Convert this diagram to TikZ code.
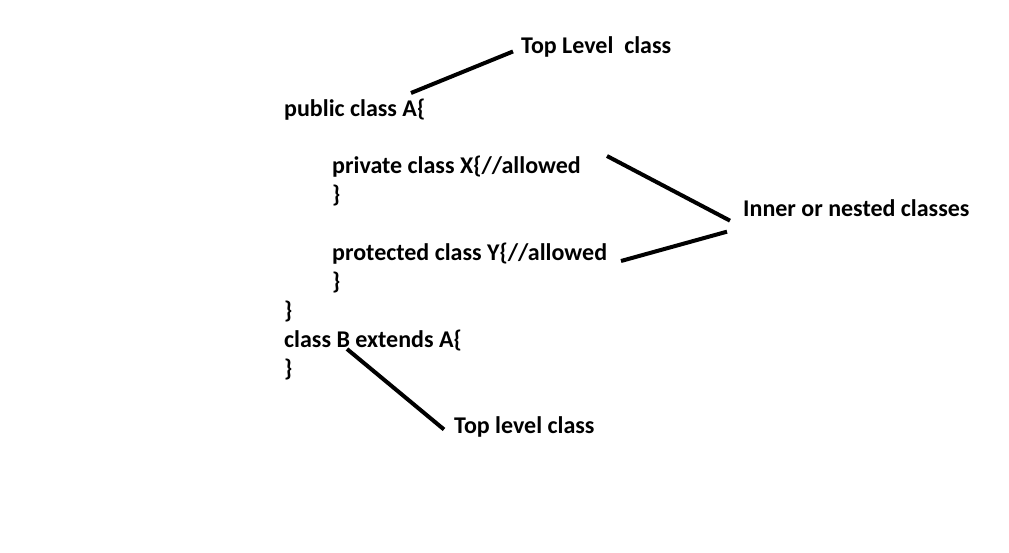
\documentclass[tikz,border=0pt]{standalone}
\usepackage{fontspec}
\setmainfont{Carlito}

\begin{document}
\begin{tikzpicture}[x=1pt,y=-1pt,
    code/.style={anchor=base west,inner sep=0pt,font=\fontsize{24}{29}\selectfont\bfseries},
    pointer/.style={line width=4pt}]
    \useasboundingbox (0,0) rectangle (1009,552);

    % Code
    \node[code] (clsA) at (284,116) {public class A\{};
    \node[code] (clsX) at (332,173) {private class X\{//allowed};
    \node[code] (endX) at (332,202) {\}};
    \node[code] (clsY) at (332,260) {protected class Y\{//allowed};
    \node[code] (endY) at (332,289) {\}};
    \node[code] (endA) at (284,318) {\}};
    \node[code] (clsB) at (284,347) {class B extends A\{};
    \node[code] (endB) at (284,376) {\}};

    % Beschriftung
    \node[code] (topA) at (521,53) {Top Level\ \ class};
    \node[code] (inner) at (743,216) {Inner or nested classes};
    \node[code] (topB) at (454,433) {Top level class};

    % Zeiger
    \coordinate (pA) at (411,93);
    \coordinate (pX) at (607,156);
    \coordinate (pY) at (621,261);
    \coordinate (pB) at (347,349);
    \draw[pointer] (pA) -- ([xshift=-8pt,yshift=-5pt]topA.west);
    \draw[pointer] (pX) -- ([xshift=-13pt,yshift=-13pt]inner.west);
    \draw[pointer] (pY) -- ([xshift=-16pt,yshift=-24pt]inner.west);
    \draw[pointer] (pB) -- ([xshift=-10pt,yshift=-3pt]topB.west);
\end{tikzpicture}
\end{document}
